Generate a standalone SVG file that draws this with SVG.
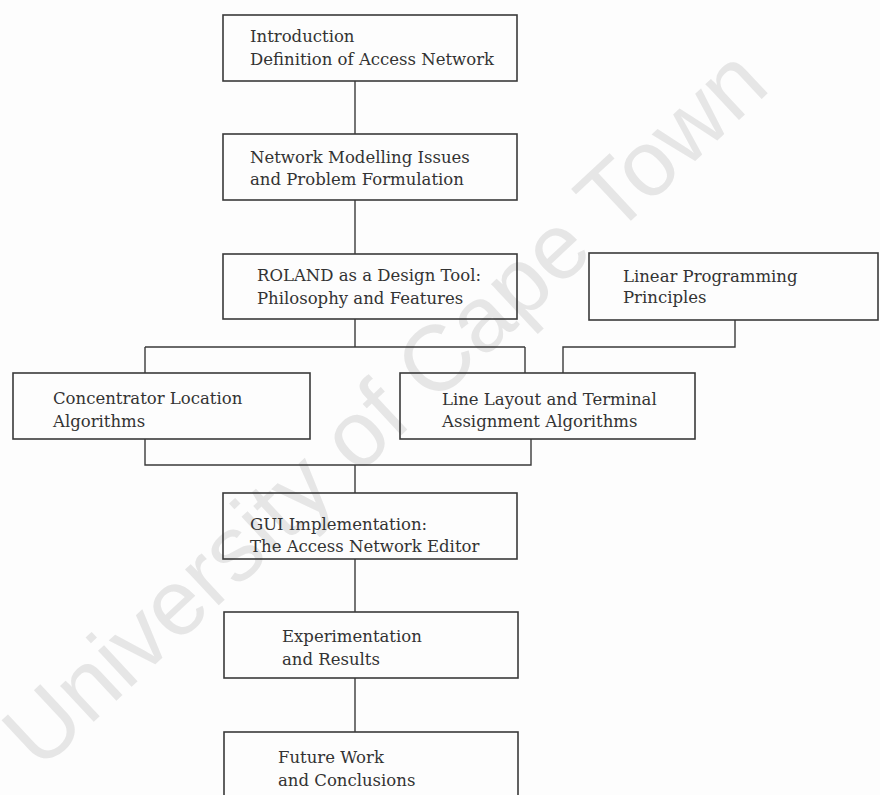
<svg xmlns="http://www.w3.org/2000/svg" width="880" height="795" viewBox="0 0 880 795">
  <style>
    .box { fill: none; stroke: #3a3a3a; stroke-width: 1.6; }
    .wire { fill: none; stroke: #3a3a3a; stroke-width: 1.4; }
    .lbl { font-family: "DejaVu Serif", "Liberation Serif", serif; font-size: 16.5px; fill: #333; }
    .mark { font-family: "Liberation Sans", Arial, sans-serif; font-size: 93px; fill: #e6e6e6; }
  </style>
  <rect x="0" y="0" width="880" height="795" fill="#fdfdfd"/>

  <!-- repository watermark running diagonally across the page -->
  <text class="mark" transform="translate(40,772) rotate(-43)">University of Cape Town</text>

  <g id="connectors">
    <path class="wire" d="M355,81 V134"/>
    <path class="wire" d="M355,200 V254"/>
    <path class="wire" d="M355,319 V347 M145,347 H525 M145,347 V373 M525,347 V373"/>
    <path class="wire" d="M735,320 V347 H563 V373"/>
    <path class="wire" d="M145,439 V465 H531 V439 M355,465 V493"/>
    <path class="wire" d="M355,559 V612"/>
    <path class="wire" d="M355,678 V732"/>
  </g>

  <g id="intro">
    <rect class="box" x="223" y="15" width="294" height="66"/>
    <text class="lbl" x="250" y="42">Introduction</text>
    <text class="lbl" x="250" y="65">Definition of Access Network</text>
  </g>

  <g id="modelling">
    <rect class="box" x="223" y="134" width="294" height="66"/>
    <text class="lbl" x="250" y="163">Network Modelling Issues</text>
    <text class="lbl" x="250" y="185">and Problem Formulation</text>
  </g>

  <g id="roland">
    <rect class="box" x="223" y="254" width="294" height="65"/>
    <text class="lbl" x="257" y="281">ROLAND as a Design Tool:</text>
    <text class="lbl" x="257" y="304">Philosophy and Features</text>
  </g>

  <g id="linear-programming">
    <rect class="box" x="589" y="253" width="289" height="67"/>
    <text class="lbl" x="623" y="282">Linear Programming</text>
    <text class="lbl" x="623" y="303">Principles</text>
  </g>

  <g id="concentrator">
    <rect class="box" x="13" y="373" width="297" height="66"/>
    <text class="lbl" x="53" y="404">Concentrator Location</text>
    <text class="lbl" x="53" y="427">Algorithms</text>
  </g>

  <g id="line-layout">
    <rect class="box" x="400" y="373" width="295" height="66"/>
    <text class="lbl" x="442" y="405">Line Layout and Terminal</text>
    <text class="lbl" x="442" y="427">Assignment Algorithms</text>
  </g>

  <g id="gui">
    <rect class="box" x="223" y="493" width="294" height="66"/>
    <text class="lbl" x="250" y="530">GUI Implementation:</text>
    <text class="lbl" x="250" y="552">The Access Network Editor</text>
  </g>

  <g id="experimentation">
    <rect class="box" x="224" y="612" width="294" height="66"/>
    <text class="lbl" x="282" y="642">Experimentation</text>
    <text class="lbl" x="282" y="665">and Results</text>
  </g>

  <g id="future-work">
    <rect class="box" x="224" y="732" width="294" height="80"/>
    <text class="lbl" x="278" y="763">Future Work</text>
    <text class="lbl" x="278" y="786">and Conclusions</text>
  </g>
</svg>
